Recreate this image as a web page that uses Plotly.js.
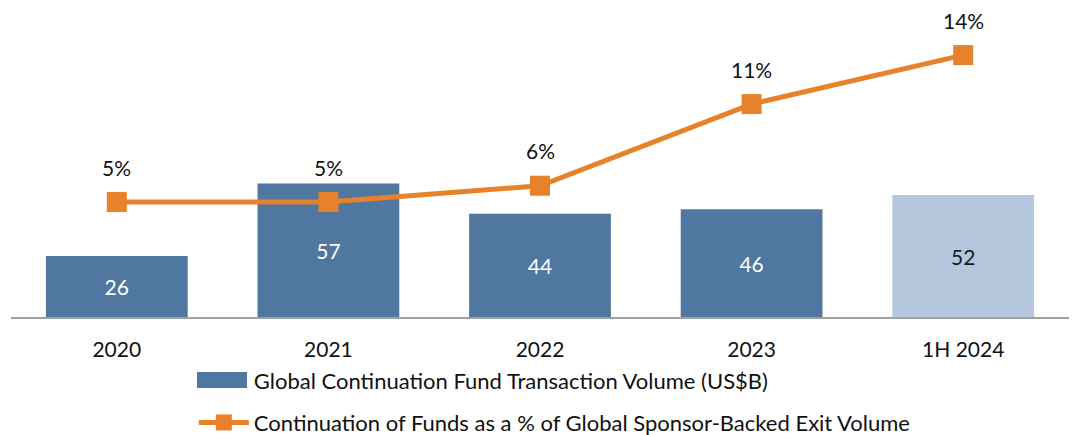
<!DOCTYPE html>
<html>
<head>
<meta charset="utf-8">
<script src="https://cdn.plot.ly/plotly-3.0.1.min.js"></script>
<style>
  html, body { margin: 0; padding: 0; background: #ffffff; }
  #chart { width: 1072px; height: 435px; }
</style>
</head>
<body>
<div id="chart"></div>
<script>
const categories = ["2020", "2021", "2022", "2023", "1H 2024"];
const volumeValues = [26, 57, 44, 46, 52];
const sharePercent = [5, 5, 6, 11, 14];
const shareLabels = ["5%", "5%", "6%", "11%", "14%"];
const barName = "Global Continuation Fund Transaction Volume (US$B)";
const lineName = "Continuation of Funds as a % of Global Sponsor-Backed Exit Volume";

const FONT = "Lato, 'Open Sans', sans-serif";
const BAR_BLUE = "#50779F";
const barColors = [BAR_BLUE, BAR_BLUE, BAR_BLUE, BAR_BLUE, "#B4C7DC"];
const barTextColors = ["#ffffff", "#ffffff", "#ffffff", "#ffffff", "#1a1a1a"];

const barTrace = {
  type: "bar",
  name: barName,
  x: categories,
  y: volumeValues,
  marker: { color: barColors, line: { width: 0 } },
  text: volumeValues.map(String),
  textposition: "inside",
  insidetextanchor: "middle",
  textfont: { family: FONT, size: 21, color: barTextColors },
  hoverinfo: "skip",
  legendgroup: "a",
  yaxis: "y"
};

const lineTrace = {
  type: "scatter",
  mode: "lines+markers",
  name: lineName,
  x: categories,
  y: sharePercent,
  line: { color: "#E8822A", width: 5 },
  marker: { symbol: "square", size: 20, color: "#E8822A" },
  hoverinfo: "skip",
  legendgroup: "b",
  yaxis: "y2"
};

const annotations = categories.map((c, i) => ({
  x: i, y: sharePercent[i], xref: "x", yref: "y2",
  text: shareLabels[i], showarrow: false,
  yshift: 35, font: { family: FONT, size: 21, color: "#111111" }
}));

// widen the legend's bar swatch to the reference's wide rectangle
const legendSwatch = {
  type: "rect", xref: "paper", yref: "paper",
  x0: 0.1758, x1: 0.2231, y0: -0.2391, y1: -0.1852,
  fillcolor: BAR_BLUE, line: { width: 0 }, layer: "below"
};

const layout = {
  width: 1072, height: 435,
  margin: { l: 11, r: 3, t: 20, b: 118, autoexpand: false },
  paper_bgcolor: "#ffffff", plot_bgcolor: "#ffffff",
  bargap: 0.33,
  showlegend: true,
  legend: {
    orientation: "v", x: 0.1728, xanchor: "left", y: -0.142, yanchor: "top",
    font: { family: FONT, size: 22, color: "#111111" },
    traceorder: "grouped", tracegroupgap: 11,
    itemwidth: 50, bgcolor: "rgba(0,0,0,0)"
  },
  xaxis: {
    type: "category",
    range: [-0.5, 4.5],
    showgrid: false, zeroline: false,
    showline: true, linecolor: "#A0A0A0", linewidth: 2,
    ticks: "", ticklabelstandoff: 13,
    tickfont: { family: FONT, size: 21, color: "#111111" },
    fixedrange: true
  },
  yaxis: {
    range: [0, 126.7], visible: false, showgrid: false, zeroline: false, fixedrange: true
  },
  yaxis2: {
    range: [-2.04, 16.15], overlaying: "y", side: "right",
    visible: false, showgrid: false, zeroline: false, fixedrange: true
  },
  shapes: [legendSwatch],
  annotations: annotations
};

Plotly.newPlot("chart", [barTrace, lineTrace], layout, { displayModeBar: false, staticPlot: true });
</script>
</body>
</html>
